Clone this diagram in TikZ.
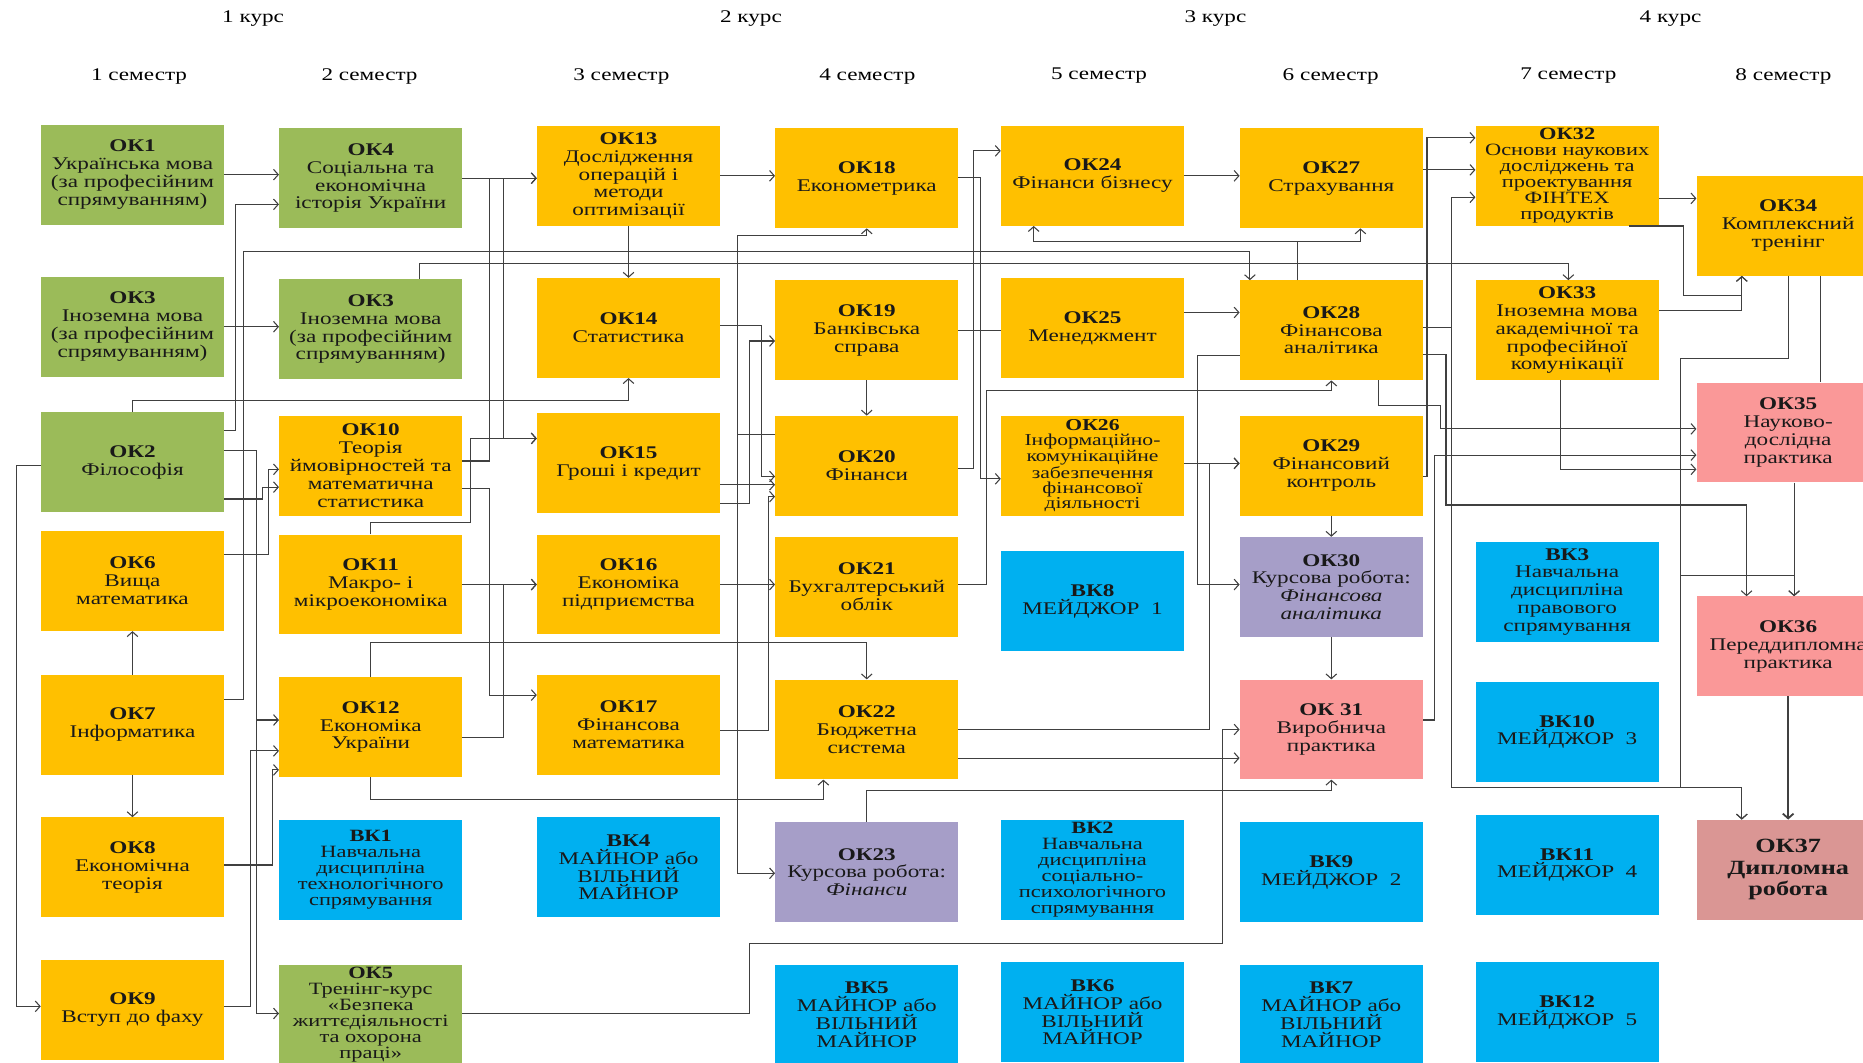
\documentclass[tikz,border=0pt]{standalone}
\usepackage{fontspec}
\setmainfont[FakeStretch=1.3]{Liberation Serif}
\usetikzlibrary{arrows.meta}

\definecolor{genGreen}{RGB}{155,187,89}
\definecolor{coreYellow}{RGB}{255,192,0}
\definecolor{elecBlue}{RGB}{0,176,240}
\definecolor{workLilac}{RGB}{166,158,200}
\definecolor{practPink}{RGB}{250,152,152}
\definecolor{thesisRose}{RGB}{218,150,148}

\begin{document}
\begin{tikzpicture}[x=1pt, y=-1pt, >={Straight Barb[length=4pt,width=9pt]},
        box/.style={rectangle, minimum width=154pt, minimum height=84pt,
            inner sep=0pt, align=center, text=black!90},
        norm/.style={font=\fontsize{15}{15}\selectfont},
        tight/.style={font=\fontsize{14.5}{13.5}\selectfont},
        tighter/.style={font=\fontsize{14}{12.5}\selectfont},
        big/.style={font=\fontsize{17}{18}\selectfont\bfseries},
        general/.style={fill=genGreen},
        core/.style={fill=coreYellow},
        elective/.style={fill=elecBlue},
        coursework/.style={fill=workLilac},
        practice/.style={fill=practPink},
        thesis/.style={fill=thesisRose},
        head/.style={font=\fontsize{15}{15}\selectfont},
        link/.style={draw=black!75, line width=0.9pt}]

        \useasboundingbox (0,0) rectangle (1568,894);
        \clip (0,0) rectangle (1568,894);
        \fill[white] (0,0) rectangle (1568,894);

        %%%%%%%%%%%%%%%%%%%%%%%%%%%%%%%%%%%%%%%%%%%%
        % Headers
        %%%%%%%%%%%%%%%%%%%%%%%%%%%%%%%%%%%%%%%%%%%%
        \foreach \l/\xx in {1/213, 2/632, 3/1023, 4/1406}
            \node [head] (kurs-\l) at (\xx,16) {\l\ курс};
        \foreach \xx [count=\l] in {117,311,523,730,925,1120,1320,1501}
            \node [head] (sem-\l) at (\xx,64) {\l\ семестр};

        %%%%%%%%%%%%%%%%%%%%%%%%%%%%%%%%%%%%%%%%%%%%
        % Course 1
        %%%%%%%%%%%%%%%%%%%%%%%%%%%%%%%%%%%%%%%%%%%%
        \foreach \nm/\yy/\kind/\fnt/\txt in {
            ok-1/147/general/norm/{\textbf{ОК1}\\Українська мова\\(за професійним\\спрямуванням)},
            ok-3/275/general/norm/{\textbf{ОК3}\\Іноземна мова\\(за професійним\\спрямуванням)},
            ok-2/389/general/norm/{\textbf{ОК2}\\Філософія},
            ok-6/489/core/norm/{\textbf{ОК6}\\Вища\\математика},
            ok-7/610/core/norm/{\textbf{ОК7}\\Інформатика},
            ok-8/730/core/norm/{\textbf{ОК8}\\Економічна\\теорія},
            ok-9/850/core/norm/{\textbf{ОК9}\\Вступ до фаху}}
            \node [box, \kind, \fnt] (\nm) at (111.5,\yy) {\txt};

        \foreach \nm/\yy/\kind/\fnt/\txt in {
            ok-4/150/general/norm/{\textbf{ОК4}\\Соціальна та\\економічна\\історія України},
            ok-3b/277/general/norm/{\textbf{ОК3}\\Іноземна мова\\(за професійним\\спрямуванням)},
            ok-10/392/core/norm/{\textbf{ОК10}\\Теорія\\ймовірностей та\\математична\\статистика},
            ok-11/492/core/norm/{\textbf{ОК11}\\Макро- і\\мікроекономіка},
            ok-12/612/core/norm/{\textbf{ОК12}\\Економіка\\України},
            bk-1/732/elective/tight/{\textbf{ВК1}\\Навчальна\\дисципліна\\технологічного\\спрямування},
            ok-5/854/general/tight/{\textbf{ОК5}\\Тренінг-курс\\«Безпека\\життєдіяльності\\та охорона\\праці»}}
            \node [box, \kind, \fnt] (\nm) at (312,\yy) {\txt};

        %%%%%%%%%%%%%%%%%%%%%%%%%%%%%%%%%%%%%%%%%%%%
        % Course 2
        %%%%%%%%%%%%%%%%%%%%%%%%%%%%%%%%%%%%%%%%%%%%
        \foreach \nm/\yy/\kind/\fnt/\txt in {
            ok-13/148/core/norm/{\textbf{ОК13}\\Дослідження\\операцій і\\методи\\оптимізації},
            ok-14/276/core/norm/{\textbf{ОК14}\\Статистика},
            ok-15/390/core/norm/{\textbf{ОК15}\\Гроші і кредит},
            ok-16/492/core/norm/{\textbf{ОК16}\\Економіка\\підприємства},
            ok-17/610/core/norm/{\textbf{ОК17}\\Фінансова\\математика},
            bk-4/730/elective/norm/{\textbf{ВК4}\\МАЙНОР або\\ВІЛЬНИЙ\\МАЙНОР}}
            \node [box, \kind, \fnt] (\nm) at (529,\yy) {\txt};

        \foreach \nm/\yy/\kind/\fnt/\txt in {
            ok-18/150/core/norm/{\textbf{ОК18}\\Економетрика},
            ok-19/278/core/norm/{\textbf{ОК19}\\Банківська\\справа},
            ok-20/392/core/norm/{\textbf{ОК20}\\Фінанси},
            ok-21/494/core/norm/{\textbf{ОК21}\\Бухгалтерський\\облік},
            ok-22/614/core/norm/{\textbf{ОК22}\\Бюджетна\\система},
            ok-23/734/coursework/norm/{\textbf{ОК23}\\Курсова робота:\\\textit{Фінанси}},
            bk-5/854/elective/norm/{\textbf{ВК5}\\МАЙНОР або\\ВІЛЬНИЙ\\МАЙНОР}}
            \node [box, \kind, \fnt] (\nm) at (729.5,\yy) {\txt};

        %%%%%%%%%%%%%%%%%%%%%%%%%%%%%%%%%%%%%%%%%%%%
        % Course 3
        %%%%%%%%%%%%%%%%%%%%%%%%%%%%%%%%%%%%%%%%%%%%
        \foreach \nm/\yy/\kind/\fnt/\txt in {
            ok-24/148/core/norm/{\textbf{ОК24}\\Фінанси бізнесу},
            ok-25/276/core/norm/{\textbf{ОК25}\\Менеджмент},
            ok-26/392/core/tighter/{\textbf{ОК26}\\Інформаційно-\\комунікаційне\\забезпечення\\фінансової\\діяльності},
            bk-8/506/elective/norm/{\textbf{ВК8}\\МЕЙДЖОР~ 1},
            bk-2/732/elective/tight/{\textbf{ВК2}\\Навчальна\\дисципліна\\соціально-\\психологічного\\спрямування},
            bk-6/852/elective/norm/{\textbf{ВК6}\\МАЙНОР або\\ВІЛЬНИЙ\\МАЙНОР}}
            \node [box, \kind, \fnt] (\nm) at (919.5,\yy) {\txt};

        \foreach \nm/\yy/\kind/\fnt/\txt in {
            ok-27/150/core/norm/{\textbf{ОК27}\\Страхування},
            ok-28/278/core/norm/{\textbf{ОК28}\\Фінансова\\аналітика},
            ok-29/392/core/norm/{\textbf{ОК29}\\Фінансовий\\контроль},
            ok-30/494/coursework/norm/{\textbf{ОК30}\\Курсова робота:\\\textit{Фінансова}\\\textit{аналітика}},
            ok-31/614/practice/norm/{\textbf{ОК 31}\\Виробнича\\практика},
            bk-9/734/elective/norm/{\textbf{ВК9}\\МЕЙДЖОР~ 2},
            bk-7/854/elective/norm/{\textbf{ВК7}\\МАЙНОР або\\ВІЛЬНИЙ\\МАЙНОР}}
            \node [box, \kind, \fnt] (\nm) at (1120.5,\yy) {\txt};

        %%%%%%%%%%%%%%%%%%%%%%%%%%%%%%%%%%%%%%%%%%%%
        % Course 4
        %%%%%%%%%%%%%%%%%%%%%%%%%%%%%%%%%%%%%%%%%%%%
        \foreach \nm/\yy/\kind/\fnt/\txt in {
            ok-32/148/core/tight/{\textbf{ОК32}\\Основи наукових\\досліджень та\\проектування\\ФІНТЕХ\\продуктів},
            ok-33/278/core/norm/{\textbf{ОК33}\\Іноземна мова\\академічної та\\професійної\\комунікації},
            bk-3/498/elective/norm/{\textbf{ВК3}\\Навчальна\\дисципліна\\правового\\спрямування},
            bk-10/616/elective/norm/{\textbf{ВК10}\\МЕЙДЖОР~ 3},
            bk-11/728/elective/norm/{\textbf{ВК11}\\МЕЙДЖОР~ 4},
            bk-12/852/elective/norm/{\textbf{ВК12}\\МЕЙДЖОР~ 5}}
            \node [box, \kind, \fnt] (\nm) at (1319,\yy) {\txt};

        \foreach \nm/\yy/\kind/\fnt/\txt in {
            ok-34/190/core/norm/{\textbf{ОК34}\\Комплексний\\тренінг},
            ok-35/364/practice/norm/{\textbf{ОК35}\\Науково-\\дослідна\\практика},
            ok-36/544/practice/norm/{\textbf{ОК36}\\Переддипломна\\практика},
            ok-37/732/thesis/big/{ОК37\\Дипломна\\робота}}
            \node [box, \kind, \fnt] (\nm) at (1505,\yy) {\txt};

        %%%%%%%%%%%%%%%%%%%%%%%%%%%%%%%%%%%%%%%%%%%%
        % Connecting
        %%%%%%%%%%%%%%%%%%%%%%%%%%%%%%%%%%%%%%%%%%%%

        % Semester 1 to semester 2
        \draw [link,->] (ok-1.east) -- (ok-4.west |- ok-1.east);
        \draw [link,->] (ok-2.east |- 0,362) -| (198,172) -- (ok-4.west |- 0,172);
        \draw [link,->] (ok-3.east) -- (ok-3b.west |- ok-3.east);
        \draw [link,->] (ok-2.north) |- (529,337) -- (ok-14.south);
        \draw [link,->] (ok-7.east |- 0,589) -| (205,212) -| (ok-28.north -| 1052,0);
        \draw [link,->] (ok-3b.north -| 353,0) |- (1320,222) -- (ok-33.north -| 1320,0);
        \draw [link,->] (ok-7.north) -- (ok-6.south);
        \draw [link,->] (ok-7.south) -- (ok-8.north);
        \draw [link,->] (ok-2.west |- 0,392) -| (14,847) -- (ok-9.west |- 0,847);
        \draw [link,->] (ok-2.east |- 0,379) -| (216,853) -- (ok-5.west |- 0,853);
        \draw [link,->] (ok-2.east |- 0,379) -| (216,606) -- (ok-12.west |- 0,606);
        \draw [link,->] (ok-2.east |- 0,420) -| (221,410) -- (ok-10.west |- 0,410);
        \draw [link,->] (ok-6.east |- 0,467) -| (226,395) -- (ok-10.west |- 0,395);
        \draw [link,->] (ok-8.east |- 0,728) -| (229,648) -- (ok-12.west |- 0,648);
        \draw [link,->] (ok-9.east |- 0,847) -| (211,632) -- (ok-12.west |- 0,632);

        % Semester 2 to semester 3
        \draw [link,->] (ok-4.east) -- (ok-13.west |- ok-4.east);
        \draw [link,->] (ok-10.east |- 0,388) -| (412,150) -- (ok-13.west |- 0,150);
        \draw [link,->] (ok-4.east) -| (424,369) -- (ok-15.west |- 0,369);
        \draw [link,->] (ok-11.north) |- (396,440) |- (ok-15.west |- 0,369);
        \draw [link,->] (ok-10.east |- 0,411) -| (412,585) -- (ok-17.west |- 0,585);
        \draw [link,->] (ok-11.east) -- (ok-16.west |- ok-11.east);
        \draw [link,->] (ok-12.east |- 0,621) -| (424,492) -- (ok-16.west |- 0,492);
        \draw [link,->] (ok-12.north) |- (729.5,541) -- (ok-22.north);
        \draw [link,->] (ok-12.south) |- (693,673) -- (ok-22.south -| 693,0);
        \draw [link,->] (ok-5.east |- 0,853) -| (631,794) -| (1029,614) -- (ok-31.west |- 0,614);

        % Semester 3 to semester 4
        \draw [link,->] (ok-13.south) -- (ok-14.north);
        \draw [link,->] (ok-13.east) -- (ok-18.west |- ok-13.east);
        \draw [link,->] (ok-14.east |- 0,274) -| (641,401) -- (ok-20.west |- 0,401);
        \draw [link,->] (ok-15.east |- 0,424) -| (631,287) -- (ok-19.west |- 0,287);
        \draw [link,->] (ok-15.east |- 0,408) -- (ok-20.west |- 0,408);
        \draw [link,->] (ok-17.east |- 0,615) -| (647,418) -- (ok-20.west |- 0,418);
        \draw [link,->] (ok-20.west |- 0,366) -| (621,735) -- (ok-23.west |- 0,735);
        \draw [link,->] (ok-20.west |- 0,366) -| (621,198) -| (ok-18.south);
        \draw [link,->] (ok-16.east) -- (ok-21.west |- ok-16.east);
        \draw [link,->] (ok-19.south) -- (ok-20.north);

        % Semester 4 to semester 5 and 6
        \draw [link,->] (ok-20.east |- 0,394) -| (819,127) -- (ok-24.west |- 0,127);
        \draw [link,->] (ok-18.east |- 0,149) -| (825,403) -- (ok-26.west |- 0,403);
        \draw [link] (ok-19.east) -- (ok-25.west |- ok-19.east);
        \draw [link,->] (ok-21.east |- 0,492) -| (830,329) -| (ok-28.south);
        \draw [link,->] (ok-22.east |- 0,614) -| (1018,390) -- (ok-29.west |- 0,390);
        \draw [link,->] (ok-22.east |- 0,638) -- (ok-31.west |- 0,638);
        \draw [link,->] (ok-23.north) |- (1120.5,665) -- (ok-31.south);

        % Semester 5 to semester 6
        \draw [link,->] (ok-24.east) -- (ok-27.west |- ok-24.east);
        \draw [link,->] (ok-25.east |- 0,263) -- (ok-28.west |- 0,263);
        \draw [link,->] (ok-26.east |- 0,390) -- (ok-29.west |- 0,390);
        \draw [link,->] (ok-28.west |- 0,299) -| (1008,492) -- (ok-30.west |- 0,492);
        \draw [link,->] (ok-28.north -| 1092,0) |- (870,203) -- (ok-24.south -| 870,0);
        \draw [link,->] (ok-28.north -| 1092,0) |- (1145,203) -- (ok-27.south -| 1145,0);
        \draw [link,->] (ok-29.south) -- (ok-30.north);
        \draw [link,->] (ok-30.south) -- (ok-31.north);

        % Semester 6 to semester 7 and 8
        \draw [link,->] (ok-27.east |- 0,143) -- (ok-32.west |- 0,143);
        \draw [link,->] (ok-29.east |- 0,401) -| (1201,116) -- (ok-32.west |- 0,116);
        \draw [link,->] (ok-28.east |- 0,276) -| (1222,166) -- (ok-32.west |- 0,166);
        \draw [link,->] (ok-28.east |- 0,276) -| (1222,663) -| (ok-37.north -| 1466,0);
        \draw [link,->] (ok-28.east |- 0,298) -| (1217,425) -| (ok-36.north -| 1470,0);
        \draw [link,->] (ok-28.south -| 1160,0) |- (1212,341) |- (ok-35.west |- 0,361);
        \draw [link,->] (ok-31.east |- 0,606) -| (1207,383) -- (ok-35.west |- 0,383);
        \draw [link,->] (ok-33.south -| 1313,0) |- (ok-35.west |- 0,395);

        % Semester 7 to semester 8
        \draw [link,->] (ok-32.east |- 0,167) -- (ok-34.west |- 0,167);
        \draw [link,->] (ok-32.south -| 1371,0) -| (1417,249) -| (ok-34.south -| 1466,0);
        \draw [link,->] (ok-33.east |- 0,261) -| (ok-34.south -| 1466,0);
        \draw [link] (ok-34.south -| 1532,0) -- (ok-35.north -| 1532,0);
        \draw [link,->] (ok-34.south) |- (1414,302) -- (1414,663) -| (ok-37.north -| 1466,0);
        \draw [link,->] (ok-34.south) |- (1414,302) -- (1414,484) -| (ok-36.north -| 1510,0);
        \draw [link,->] (ok-35.south -| 1510,0) -- (ok-36.north -| 1510,0);
        \draw [link,->, line width=1.5pt] (ok-36.south) -- (ok-37.north);
    \end{tikzpicture}
\end{document}
